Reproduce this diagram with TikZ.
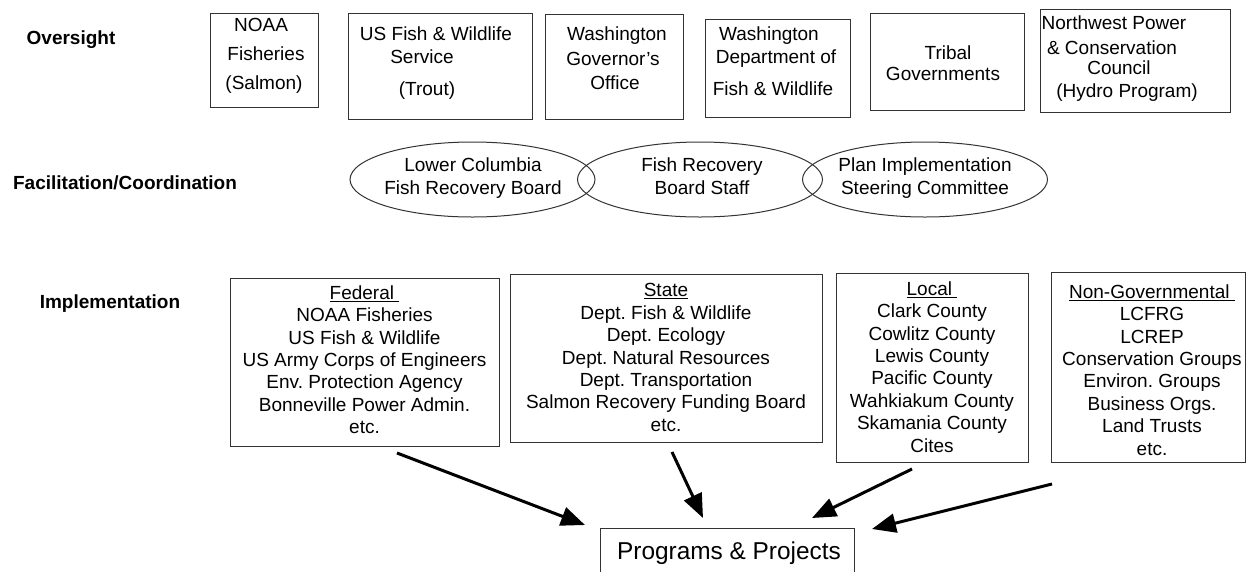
\documentclass[tikz,border=0pt]{standalone}
\usepackage{fontspec}
\setmainfont{Liberation Sans}
\usetikzlibrary{arrows.meta,shapes.geometric}
\frenchspacing
\begin{document}
\begin{tikzpicture}[x=1pt,y=-1pt,
  box/.style={draw=black!80, line width=1pt, inner sep=0pt, anchor=north west},
  txt/.style={anchor=base, inner sep=0pt, font=\fontsize{19}{22.4}\selectfont},
  list/.style={anchor=north, inner sep=0pt, align=center, font=\fontsize{19}{22.4}\selectfont},
  lab/.style={anchor=base, inner sep=0pt, font=\fontsize{19}{22.4}\selectfont\bfseries},
  ell/.style={draw=black!80, line width=1pt, ellipse, inner sep=0pt, minimum width=245pt, minimum height=75pt},
  arr/.style={line width=3pt, -{Triangle[length=24pt,width=19pt]}}
]
\useasboundingbox (0,0) rectangle (1248,571);

% row labels
\node[lab] (l1) at (71,44) {Oversight};
\node[lab] (l2) at (125,189) {Facilitation/Coordination};
\node[lab] (l3) at (110,308) {Implementation};

% oversight boxes
\node[box, minimum width=108pt, minimum height=94pt] (o1) at (210,13) {};
\node[txt] (o1a) at (261,31) {NOAA};
\node[txt] (o1b) at (266,60) {Fisheries};
\node[txt] (o1c) at (264,89) {(Salmon)};

\node[box, minimum width=184pt, minimum height=106pt] (o2) at (348,13) {};
\node[txt] (o2a) at (436,40) {US Fish \& Wildlife};
\node[txt] (o2b) at (422,63) {Service};
\node[txt] (o2c) at (427,95) {(Trout)};

\node[box, minimum width=138pt, minimum height=105pt] (o3) at (545,14) {};
\node[txt] (o3a) at (617,40) {Washington};
\node[txt] (o3b) at (613,65) {Governor's};
\node[txt] (o3c) at (615,89) {Office};

\node[box, minimum width=145pt, minimum height=98pt] (o4) at (705,19) {};
\node[txt] (o4a) at (769,40) {Washington};
\node[txt] (o4b) at (776,63) {Department of};
\node[txt] (o4c) at (773,95) {Fish \& Wildlife};

\node[box, minimum width=154pt, minimum height=97pt] (o5) at (870,13) {};
\node[txt] (o5a) at (948,59) {Tribal};
\node[txt] (o5b) at (943,80) {Governments};

\node[box, minimum width=190pt, minimum height=103pt] (o6) at (1040,9) {};
\node[txt] (o6a) at (1114,29) {Northwest Power};
\node[txt] (o6b) at (1112,54) {\& Conservation};
\node[txt] (o6c) at (1119,74) {Council};
\node[txt] (o6d) at (1127,97) {(Hydro Program)};

% facilitation ellipses
\node[ell] (e1) at (472.5,179.5) {};
\node[ell] (e2) at (700,179.5) {};
\node[ell] (e3) at (925,179.5) {};
\node[list] (e1t) at (473,158) {Lower Columbia\\Fish Recovery Board};
\node[list] (e2t) at (702,158) {Fish Recovery\\Board Staff};
\node[list] (e3t) at (925,158) {Plan Implementation\\Steering Committee};

% implementation boxes
\node[box, minimum width=269pt, minimum height=168pt] (fed) at (230,278) {};
\node[list] (fedt) at (364.5,285.4) {\underline{Federal\ }\\NOAA Fisheries\\US Fish \& Wildlife\\US Army Corps of Engineers\\Env. Protection Agency\\Bonneville Power Admin.\\etc.};

\node[box, minimum width=312pt, minimum height=168pt] (sta) at (510,274) {};
\node[list] (stat) at (666,283.4) {\underline{State}\\Dept. Fish \& Wildlife\\Dept. Ecology\\Dept. Natural Resources\\Dept. Transportation\\Salmon Recovery Funding Board\\etc.};

\node[box, minimum width=192pt, minimum height=189pt] (loc) at (836,273) {};
\node[list] (loct) at (932,281.4) {\underline{Local\ }\\Clark County\\Cowlitz County\\Lewis County\\Pacific County\\Wahkiakum County\\Skamania County\\Cites};

\node[box, minimum width=194pt, minimum height=190pt] (ngo) at (1051,272) {};
\node[list] (ngot) at (1152,284.4) {\underline{Non-Governmental\ }\\LCFRG\\LCREP\\Conservation Groups\\Environ. Groups\\Business Orgs.\\Land Trusts\\etc.};

% programs box (cut by the page bottom)
\node[box, minimum width=254pt, minimum height=70pt] (prog) at (600,528) {};
\node[anchor=base, inner sep=0pt, font=\fontsize{24.4}{28}\selectfont] (progt) at (729,559) {Programs \& Projects};

% arrows
\coordinate (a1s) at (397,453); \coordinate (a1e) at (585,525);
\coordinate (a2s) at (672,452); \coordinate (a2e) at (703,518);
\coordinate (a3s) at (912,469); \coordinate (a3e) at (812,518);
\coordinate (a4s) at (1052,484); \coordinate (a4e) at (872,529);
\draw[arr] (a1s) -- (a1e);
\draw[arr] (a2s) -- (a2e);
\draw[arr] (a3s) -- (a3e);
\draw[arr] (a4s) -- (a4e);
\end{tikzpicture}
\end{document}
